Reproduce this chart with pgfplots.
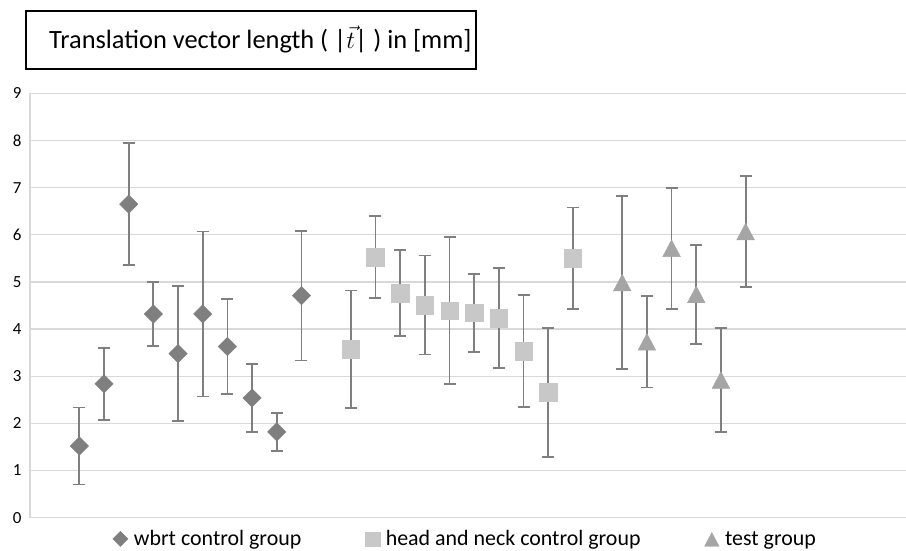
\documentclass[border=0pt]{standalone}
\usepackage{fontspec}
\setmainfont{Carlito}
\usepackage{pgfplots}
\usepackage{pgfplotstable}
\pgfplotsset{compat=1.18}
\definecolor{wbrt}{HTML}{7F7F7F}
\definecolor{hn}{HTML}{C8C8C8}
\definecolor{tst}{HTML}{A5A5A5}
\definecolor{errc}{HTML}{7F7F7F}
\definecolor{gridc}{HTML}{D9D9D9}

% x = position in the chart, y = mean, e = error (half bar)
\pgfplotstableread{
x y e
1 1.52 0.815
2 2.84 0.76
3 6.65 1.29
4 4.32 0.675
5 3.48 1.425
6 4.32 1.75
7 3.63 1.005
8 2.54 0.72
9 1.82 0.405
10 4.71 1.375
}\wbrt
\pgfplotstableread{
x y e
12 3.57 1.25
13 5.53 0.87
14 4.765 0.915
15 4.51 1.05
16 4.39 1.56
17 4.345 0.825
18 4.23 1.06
19 3.53 1.19
20 2.655 1.365
21 5.50 1.08
}\hn
\pgfplotstableread{
x y e
23 4.985 1.835
24 3.73 0.97
25 5.715 1.285
26 4.735 1.045
27 2.92 1.10
28 6.07 1.17
}\tst

\begin{document}
\begin{tikzpicture}[x=1bp,y=1bp]
\useasboundingbox (0,0) rectangle (906,551);
\begin{axis}[
  at={(30bp,33.3bp)},anchor=south west,
  scale only axis,width=876bp,height=424.4bp,
  xmin=-1,xmax=34.5,ymin=0,ymax=9,
  ytick={0,1,...,9},
  xtick={-1},xticklabels={},
  xmajorgrids,ymajorgrids,
  grid style={gridc,line width=1.3bp},
  major tick length=0pt,
  axis line style={draw=none},
  tick label style={font=\fontsize{17}{20}\selectfont},
  yticklabel style={xshift=-5bp},
  /pgf/number format/assume math mode=true,
  legend columns=3,
  legend style={at={(0.497,-0.05)},anchor=center,draw=none,fill=none,
    font=\fontsize{22}{26}\selectfont,
    /tikz/every odd column/.append style={column sep=4bp},
    /tikz/every even column/.append style={column sep=62bp}},
  legend image code/.code={\draw[#1] plot coordinates {(0bp,0bp)};},
  legend image post style={every mark/.append style={scale=0.82}},
]
\addplot[only marks,mark=square*,mark size=6.5bp,
  mark options={rotate=45,fill=wbrt,draw=wbrt},
  error bars/.cd,y dir=both,y explicit,
  error bar style={draw=errc,line width=1.8bp},
  error mark options={draw=errc,line width=1.8bp,mark size=6bp,rotate=90}]
  table[x=x,y=y,y error=e] {\wbrt};
\addlegendentry{wbrt control group}
\addplot[only marks,mark=square*,mark size=8.8bp,
  mark options={fill=hn,draw=hn},
  error bars/.cd,y dir=both,y explicit,
  error bar style={draw=errc,line width=1.8bp},
  error mark options={draw=errc,line width=1.8bp,mark size=6bp,rotate=90}]
  table[x=x,y=y,y error=e] {\hn};
\addlegendentry{head and neck control group}
\addplot[only marks,mark=triangle*,mark size=10.2bp,
  mark options={yshift=-2.8bp,yscale=1.09,fill=tst,draw=tst},
  error bars/.cd,y dir=both,y explicit,
  error bar style={draw=errc,line width=1.8bp},
  error mark options={draw=errc,line width=1.8bp,mark size=6bp,rotate=90}]
  table[x=x,y=y,y error=e] {\tst};
\addlegendentry{test group}
\end{axis}
\draw[line width=1.4bp] (26,482) rectangle (476,540);
\node[anchor=base west,inner sep=0pt,font=\fontsize{26.5}{30}\selectfont]
  at (49,502.7) {Translation vector length ( |$\vec{t}$| ) in [mm]};
\end{tikzpicture}
\end{document}
